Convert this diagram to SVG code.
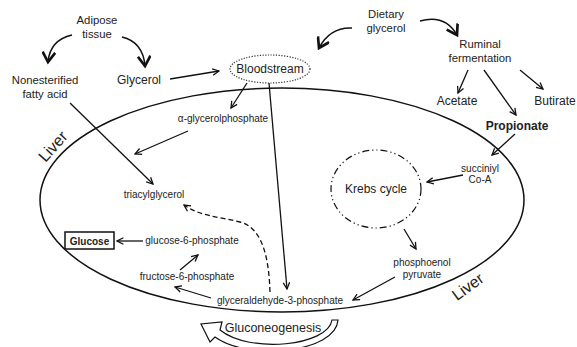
<svg xmlns="http://www.w3.org/2000/svg" width="577" height="347" viewBox="0 0 577 347">
<defs>
<style>
text{font-family:"Liberation Sans",Arial,sans-serif;fill:#222;text-anchor:middle}
.t12{font-size:12px}.t11{font-size:11.3px}.t10{font-size:10px}.t14{font-size:12.5px}
.b{font-weight:bold}
.ln{fill:none;stroke:#111;stroke-width:1.3}
.cv{fill:none;stroke:#111;stroke-width:1.5}
</style>
<marker id="a" viewBox="0 0 10 10" refX="9" refY="5" markerWidth="8" markerHeight="8" markerUnits="userSpaceOnUse" orient="auto">
<path d="M1,1 L9,5 L1,9" fill="none" stroke="#111" stroke-width="1.6"/>
</marker>
<marker id="v" viewBox="0 0 10 10" refX="8" refY="5" markerWidth="14" markerHeight="14" markerUnits="userSpaceOnUse" orient="auto">
<path d="M1,0.5 L8,5 L1,9.5" fill="none" stroke="#111" stroke-width="1.9"/>
</marker>
</defs>
<rect width="577" height="347" fill="#fff"/>

<g id="liver">
<ellipse cx="282" cy="200" rx="242" ry="112" fill="none" stroke="#111" stroke-width="1.5"/>
<text transform="translate(57,150) rotate(-48)" style="font-size:16px">Liver</text>
<text transform="translate(471,291) rotate(-36)" style="font-size:16px">Liver</text>
</g>

<g id="adipose"><text class="t11" x="97" y="24">Adipose</text><text class="t11" x="97" y="38">tissue</text></g>
<g id="nefa"><text class="t11" x="45" y="84">Nonesterified</text><text class="t11" x="45" y="98">fatty acid</text></g>
<g id="glycerol"><text class="t12" x="139" y="84">Glycerol</text></g>
<g id="bloodstream">
<ellipse cx="270" cy="69" rx="40" ry="14" fill="none" stroke="#333" stroke-width="1.2" stroke-dasharray="1.2,1.5"/>
<text class="t12" x="270" y="73">Bloodstream</text>
</g>
<g id="dietary"><text class="t11" x="386" y="18">Dietary</text><text class="t11" x="386" y="32">glycerol</text></g>
<g id="ruminal"><text class="t11" x="480" y="48">Ruminal</text><text class="t11" x="480" y="62">fermentation</text></g>
<g id="acetate"><text class="t12" x="457" y="105">Acetate</text></g>
<g id="butirate"><text class="t12" x="555" y="105">Butirate</text></g>
<g id="propionate"><text class="t12 b" x="517" y="130">Propionate</text></g>
<g id="succinyl"><text class="t10" x="480" y="172">succiniyl</text><text class="t10" x="480" y="183">Co-A</text></g>
<g id="krebs">
<ellipse cx="376" cy="189" rx="45" ry="39" fill="none" stroke="#111" stroke-width="1.2" stroke-dasharray="7,3,1.2,3,1.2,3"/>
<text class="t12" x="376" y="193">Krebs cycle</text>
</g>
<g id="pep"><text class="t10" x="422" y="266">phosphoenol</text><text class="t10" x="422" y="278">pyruvate</text></g>
<g id="g3p"><text class="t10" x="280" y="304">glyceraldehyde-3-phosphate</text></g>
<g id="agp"><text class="t10" x="223" y="122">α-glycerolphosphate</text></g>
<g id="tag"><text class="t10" x="154" y="198">triacylglycerol</text></g>
<g id="glucose"><rect x="65" y="232" width="49" height="17" fill="none" stroke="#111" stroke-width="1.5"/><text class="t10 b" x="89.5" y="244.5">Glucose</text></g>
<g id="g6p"><text class="t10" x="192" y="244">glucose-6-phosphate</text></g>
<g id="f6p"><text class="t10" x="187" y="280">fructose-6-phosphate</text></g>
<g id="gluconeogenesis">
<path d="M338,320 C336,352 250,362 215,337 L210,342 L201,324 L222,322 L220,330 C250,354 328,346 332,320 Z" fill="#fff" stroke="#111" stroke-width="1.2" stroke-linejoin="miter"/>
<text class="t14" x="273" y="332">Gluconeogenesis</text>
</g>

<g id="connectors">
<path class="cv" d="M72,35 Q50,40 48,62" marker-end="url(#v)"/>
<path class="cv" d="M122,37 Q143,42 145,66" marker-end="url(#v)"/>
<path class="cv" d="M352,28 Q330,27 319,48" marker-end="url(#v)"/>
<path class="cv" d="M420,21 Q445,14 457,35" marker-end="url(#v)"/>
<line class="ln" x1="170" y1="79" x2="219" y2="71" marker-end="url(#a)"/>
<line class="ln" x1="468" y1="70" x2="458" y2="93" marker-end="url(#a)"/>
<line class="ln" x1="484" y1="70" x2="516" y2="115" marker-end="url(#a)"/>
<line class="ln" x1="520" y1="70" x2="543" y2="89" marker-end="url(#a)"/>
<line class="ln" x1="515" y1="134" x2="492" y2="155" marker-end="url(#a)"/>
<line class="ln" x1="463" y1="175" x2="427" y2="182" marker-end="url(#a)"/>
<line class="ln" x1="404" y1="229" x2="416" y2="249" marker-end="url(#a)"/>
<line class="ln" x1="395" y1="277" x2="353" y2="300" marker-end="url(#a)"/>
<line class="ln" x1="269" y1="83" x2="287" y2="289" marker-end="url(#a)"/>
<line class="ln" x1="247" y1="83" x2="231" y2="108" marker-end="url(#a)"/>
<line class="ln" x1="188" y1="131" x2="135" y2="154" marker-end="url(#a)"/>
<line class="ln" x1="70" y1="103" x2="153" y2="184" marker-end="url(#a)"/>
<path class="ln" d="M270,292 C269,262 264,228 240,222 C215,216 200,216 184,205" stroke-dasharray="5,3" marker-end="url(#a)"/>
<line class="ln" x1="143" y1="241" x2="117" y2="241" marker-end="url(#a)"/>
<line class="ln" x1="180" y1="270" x2="198" y2="255" marker-end="url(#a)"/>
<line class="ln" x1="211" y1="298" x2="175" y2="287" marker-end="url(#a)"/>
</g>
</svg>
